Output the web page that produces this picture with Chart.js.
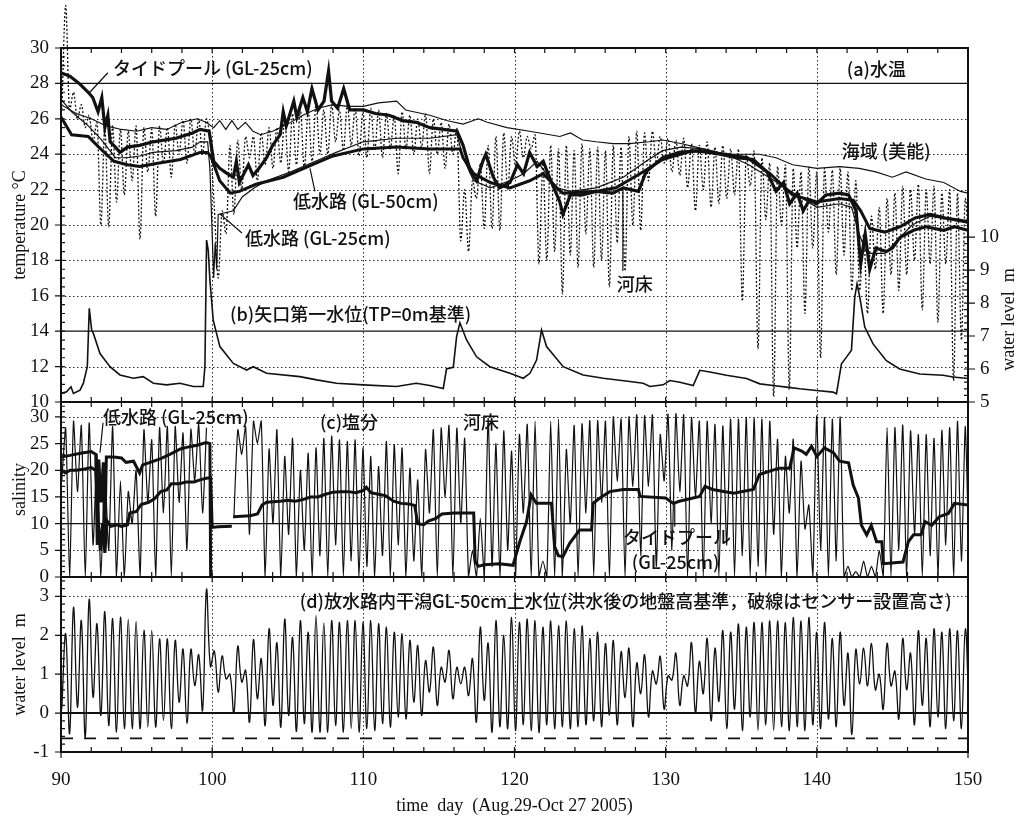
<!DOCTYPE html>
<html>
<head>
<meta charset="utf-8">
<script src="https://cdn.jsdelivr.net/npm/chart.js@4.4.1/dist/chart.umd.min.js"></script>
<style>
  html, body { margin: 0; padding: 0; background: #fff; }
  #wrap { position: relative; width: 1016px; height: 817px; }
  #wrap canvas { position: absolute; left: 0; top: 0; }
</style>
</head>
<body>
<div id="wrap">
  <canvas id="chartA" width="1016" height="817"></canvas>
  <canvas id="chartC" width="1016" height="817"></canvas>
  <canvas id="chartD" width="1016" height="817"></canvas>
</div>
<script>
// ---- tick labels ----
const dayTicks = [90, 100, 110, 120, 130, 140, 150];
const tempTicks = [10, 12, 14, 16, 18, 20, 22, 24, 26, 28, 30];
const levelTicks = [5, 6, 7, 8, 9, 10];
const salTicks = [0, 5, 10, 15, 20, 25, 30];
const tideTicks = [-1, 0, 1, 2, 3];

// ---- tide sampling grid (high water i at t0 + i*P, low water j at t0 + (j-0.5)*P) ----
const tideT0 = 90.31;
const tidePeriod = 0.5175;

// ---- (a) water temperature ----
const poolTempDay = [90.0, 90.6, 91.2, 91.8, 92.1, 92.45, 92.7, 92.9, 93.1, 93.25,
  93.6, 93.9, 94.4, 95.2, 96.1, 97.6, 98.7, 99.2, 99.8, 100.1,
  100.5, 101.0, 101.4, 101.6, 101.8, 102.4, 102.7, 103.1, 103.6, 104.0,
  104.5, 104.7, 104.9, 105.4, 105.6, 106.0, 106.3, 106.6, 107.0, 107.4,
  107.7, 107.9, 108.3, 108.7, 109.1, 110.0, 110.8, 111.7, 112.6, 113.5,
  114.4, 115.3, 116.2, 116.6, 117.1, 117.5, 117.9, 118.1, 118.6, 119.0,
  119.7, 120.2, 120.6, 121.0, 121.5, 121.9, 122.4, 123.0, 123.2, 123.7,
  124.5, 125.4, 126.5, 127.2, 128.2, 128.7, 129.8, 130.9, 132.3, 133.6,
  134.7, 135.8, 136.7, 137.3, 137.8, 138.2, 138.7, 139.1, 139.5, 140.0,
  140.6, 141.5, 142.1, 142.6, 142.9, 143.2, 143.5, 143.9, 144.6, 145.0,
  145.5, 146.4, 147.2, 148.4, 149.1, 150.0];
const poolTemp = [28.6, 28.4, 28.0, 27.5, 27.2, 26.4, 27.2, 25.5, 26.2, 24.7,
  24.4, 24.1, 24.4, 24.5, 24.7, 24.9, 25.2, 25.4, 25.3, 23.6,
  23.2, 22.9, 22.7, 23.6, 22.4, 23.4, 22.8, 23.2, 23.8, 24.5,
  25.1, 26.4, 25.6, 27.0, 26.1, 27.2, 26.4, 27.7, 26.5, 27.0,
  28.7, 27.0, 26.6, 27.7, 26.5, 26.5, 26.3, 26.2, 25.9, 25.8,
  25.5, 25.4, 25.3, 24.5, 23.0, 22.5, 23.6, 24.0, 22.7, 22.1,
  22.4, 23.4, 22.9, 24.1, 23.3, 23.6, 22.5, 21.3, 20.6, 21.7,
  21.7, 21.9, 21.8, 22.1, 21.9, 23.0, 23.8, 24.1, 24.2, 24.0,
  23.8, 23.7, 23.0, 21.9, 22.4, 21.2, 21.8, 20.8, 21.4, 21.2,
  21.7, 21.8, 21.7, 20.8, 17.8, 19.5, 17.5, 18.7, 18.5, 18.7,
  19.3, 19.7, 19.9, 19.7, 19.9, 19.7];

const lowCh50Day = [90.0, 90.7, 91.8, 92.5, 93.5, 94.4, 95.2, 96.5, 97.9, 99.2,
  99.7, 99.95, 100.5, 101.2, 101.8, 102.9, 104.7, 106.6, 108.0, 110.0,
  112.2, 114.4, 116.4, 116.6, 117.3, 118.4, 119.7, 121.0, 121.9, 122.8,
  123.2, 125.4, 126.7, 128.3, 129.8, 131.8, 134.0, 135.4, 136.9, 138.4,
  140.0, 141.5, 142.4, 142.9, 143.5, 144.5, 145.5, 146.5, 147.5, 148.5, 150.0];
const lowCh50 = [26.1, 25.1, 25.0, 24.4, 23.6, 23.4, 23.3, 23.5, 23.7, 24.1,
  24.1, 23.8, 22.5, 21.8, 21.9, 22.3, 22.7, 23.4, 23.9, 24.3,
  24.4, 24.3, 24.3, 23.8, 22.9, 22.4, 22.1, 22.5, 22.9, 22.1,
  21.8, 21.9, 22.1, 22.9, 23.7, 24.2, 24.0, 23.8, 22.9, 21.7,
  21.3, 21.5, 21.4, 20.8, 19.8, 19.6, 19.9, 20.4, 20.6, 20.4, 20.2];

const lowCh25Day = [90.0, 90.7, 91.8, 92.6, 93.6, 94.4, 95.2, 96.1, 97.6, 98.7,
  99.2, 99.7, 99.85, 100.0, 100.1, 100.2, 100.3, 100.4, 101.4, 102.0,
  102.8, 103.6, 105.2, 107.1, 108.2, 110.0, 112.2, 114.4, 116.2, 116.6,
  117.3, 118.4, 119.7, 120.6, 121.5, 122.1, 122.8, 123.7, 125.4, 127.2,
  128.7, 129.8, 131.0, 132.5, 134.0, 135.5, 137.0, 138.5, 140.0, 141.5,
  142.3, 142.8, 143.2, 143.5, 144.5, 145.5, 146.3, 147.5, 150.0];
const lowCh25 = [27.1, 26.4, 25.6, 24.9, 23.8, 23.8, 23.9, 24.1, 24.2, 24.4,
  24.7, 24.7, 23.2, 19.5, 17.0, 19.0, 17.5, 20.6, 20.8, 21.6,
  22.1, 22.5, 23.0, 23.7, 24.1, 24.7, 24.9, 24.9, 25.1, 23.8,
  22.5, 22.1, 22.5, 22.9, 23.6, 22.9, 22.1, 21.9, 22.1, 22.7,
  23.6, 24.2, 24.4, 24.3, 24.0, 23.4, 22.6, 21.8, 21.0, 21.2,
  21.0, 19.5, 18.6, 18.4, 18.4, 19.3, 20.0, 20.5, 20.1];

const seaDay = [90.0, 91.0, 92.0, 93.0, 94.0, 95.0, 96.0, 97.0, 98.0, 99.0,
  99.6, 100.1, 100.5, 100.9, 101.3, 101.7, 102.2, 102.7, 103.2, 104.0,
  105.0, 106.0, 107.0, 108.0, 109.0, 110.0, 111.0, 112.2, 112.8, 114.4,
  115.5, 116.6, 117.6, 118.2, 119.5, 121.0, 123.0, 123.7, 124.5, 125.4,
  126.5, 127.6, 128.9, 129.8, 131.0, 132.5, 134.0, 136.2, 137.3, 138.4,
  140.0, 141.5, 142.8, 143.9, 145.0, 145.9, 147.2, 148.4, 149.5, 150.0];
const seaTemp = [26.8, 26.3, 26.0, 25.6, 25.4, 25.3, 25.5, 25.4, 25.8, 26.0,
  25.8, 25.5, 25.9, 25.4, 25.9, 25.4, 25.8, 25.3, 25.1, 25.3,
  25.7, 26.2, 26.6, 26.8, 26.7, 26.7, 26.9, 27.0, 26.5, 26.2,
  25.9, 25.7, 26.0, 25.8, 25.5, 25.3, 25.0, 25.2, 24.8, 24.7,
  24.6, 24.6, 24.7, 24.8, 24.6, 24.3, 24.0, 24.0, 23.8, 23.4,
  23.2, 23.3, 23.2, 23.0, 22.7, 23.0, 22.6, 22.4, 21.9, 21.8];

// riverbed (河床) temperature at high and low water
const bedTempHigh = [32.4, 27.5, 26.8, 26.2, 25.8, 25.5, 25.6, 25.4, 25.3, 25.6,
  25.5, 25.4, 25.6, 25.5, 25.7, 25.9, 26.0, 26.0, 26.0, 21.0,
  20.8, 24.5, 24.8, 25.0, 25.0, 25.2, 25.5, 25.5, 26.0, 26.3,
  26.5, 26.5, 26.8, 26.5, 26.8, 26.5, 26.8, 26.6, 26.4, 26.6,
  26.5, 26.3, 26.2, 26.4, 26.2, 26.0, 26.3, 26.0, 25.8, 25.7,
  25.5, 22.0, 22.5, 23.5, 24.5, 25.0, 25.2, 25.0, 25.3, 25.0,
  25.1, 23.5, 24.5, 24.3, 24.5, 24.2, 24.6, 24.3, 24.4, 24.2,
  24.5, 24.4, 25.0, 25.3, 25.2, 25.3, 25.0, 24.9, 24.8, 24.9,
  24.6, 24.5, 24.7, 24.4, 24.5, 24.3, 24.3, 24.0, 24.2, 23.8,
  23.5, 23.3, 23.4, 23.2, 23.0, 23.3, 23.0, 23.2, 23.1, 23.2,
  23.0, 22.5, 19.5, 20.5, 21.0, 21.5, 21.8, 22.2, 22.0, 22.3,
  22.0, 22.2, 21.8, 22.0, 21.8, 21.5];
const bedTempLow = [26.5, 26.5, 26.0, 25.5, 24.7, 20.0, 19.9, 21.3, 21.7, 22.5,
  19.2, 23.0, 20.5, 23.5, 22.7, 24.0, 23.5, 24.0, 24.0, 24.5,
  17.0, 19.5, 20.6, 22.0, 23.8, 22.5, 23.4, 23.2, 23.5, 23.0,
  23.4, 23.2, 23.6, 24.0, 24.0, 24.7, 24.2, 24.5, 23.9, 23.8,
  24.2, 23.8, 24.3, 22.9, 24.3, 24.0, 24.4, 22.9, 24.0, 23.2,
  24.0, 19.1, 18.5, 21.5, 19.8, 19.8, 19.7, 22.0, 23.3, 23.8,
  24.3, 17.8, 18.0, 18.5, 16.1, 18.3, 17.6, 19.5, 17.6, 18.0,
  16.5, 19.0, 17.4, 20.0, 19.7, 22.5, 23.5, 23.5, 23.0, 22.8,
  22.1, 20.8, 22.0, 21.0, 21.2, 21.5, 21.7, 15.7, 22.2, 13.0,
  20.3, 10.3, 20.0, 10.7, 18.7, 15.0, 18.7, 12.5, 19.6, 17.2,
  18.3, 16.3, 16.3, 15.0, 17.5, 15.0, 17.2, 16.3, 17.2, 18.0,
  15.2, 17.8, 14.5, 17.8, 11.2, 13.5, 18.0];

// ---- (b) Yaguchi No.1 water level, m (right axis) ----
const wlDay = [90.0, 90.37, 90.66, 90.82, 91.26, 91.48, 91.74, 91.87, 92.03, 92.14,
  92.58, 93.24, 93.9, 94.78, 95.44, 96.11, 96.99, 97.87, 98.75, 99.41,
  99.52, 99.63, 99.74, 99.85, 100.07, 100.51, 101.4, 102.28, 102.72, 103.6,
  105.8, 106.91, 108.23, 110.0, 112.2, 113.5, 114.4, 115.29, 115.5, 115.95,
  116.17, 116.39, 116.83, 117.49, 118.37, 119.7, 120.58, 121.02, 121.46, 121.79,
  122.12, 123.22, 124.54, 125.87, 127.63, 128.51, 128.96, 129.83, 130.28, 130.94,
  131.82, 132.26, 132.92, 134.02, 135.35, 136.23, 137.11, 137.99, 138.87, 139.97,
  141.07, 141.3, 141.63, 141.96, 142.29, 142.51, 142.66, 142.84, 143.17, 143.72,
  144.6, 145.48, 146.81, 148.35, 149.01, 150.0];
const wlLevel = [5.26, 5.31, 5.46, 5.26, 5.36, 5.57, 6.07, 7.84, 7.18, 7.08,
  6.47, 6.07, 5.82, 5.72, 5.77, 5.57, 5.52, 5.57, 5.47, 5.47,
  6.07, 9.91, 9.6, 8.7, 7.48, 6.68, 6.17, 5.97, 6.07, 5.87,
  5.77, 5.67, 5.57, 5.52, 5.47, 5.57, 5.5, 5.41, 6.0, 6.05,
  6.98, 7.4, 6.88, 6.37, 6.07, 5.87, 5.72, 5.87, 6.27, 7.18,
  6.68, 6.07, 5.82, 5.72, 5.62, 5.57, 5.47, 5.52, 5.65, 5.6,
  5.5, 5.96, 5.91, 5.81, 5.71, 5.55, 5.5, 5.45, 5.4, 5.35,
  5.3, 5.25, 6.16, 6.36, 6.57, 8.18, 8.58, 8.18, 7.27, 6.76,
  6.25, 6.0, 5.85, 5.81, 5.76, 5.71];

// ---- (c) salinity ----
const lowSalDay = [90.0, 90.6, 91.3, 92.0, 92.3, 92.4, 92.5, 92.65, 92.8, 92.9,
  93.0, 93.5, 94.0, 94.3, 94.8, 95.2, 95.4, 95.9, 96.6, 97.2,
  97.9, 98.3, 99.0, 99.6, 99.85, 99.9];
const lowSal = [22.5, 22.8, 23.2, 23.5, 23.0, 6.0, 22.0, 14.0, 21.5, 8.0,
  22.5, 22.5, 22.3, 21.5, 21.7, 19.5, 21.0, 21.5, 22.2, 23.0,
  24.0, 24.3, 24.7, 25.2, 25.0, 0.0];

const poolSalDay = [90.0, 90.3, 90.6, 91.0, 91.5, 92.0, 92.3, 92.45, 92.6, 92.75,
  92.9, 93.05, 93.3, 93.7, 94.0, 94.4, 94.55, 95.0, 95.3, 95.8,
  96.2, 96.6, 97.0, 97.3, 97.8, 98.3, 98.8, 99.2, 99.6, 99.9,
  100.0, 100.4, 101.3, 101.35, 101.4, 102.5, 103.0, 103.3, 103.6, 104.5,
  105.0, 105.5, 106.0, 106.5, 107.0, 107.5, 108.0, 108.5, 109.0, 109.5,
  110.0, 110.2, 110.5, 111.0, 111.5, 112.0, 112.5, 113.0, 113.4, 113.6,
  114.0, 114.3, 114.8, 115.2, 116.0, 116.8, 117.3, 117.4, 117.6, 118.0,
  119.0, 119.9, 120.35, 120.8, 121.1, 121.45, 122.45, 122.65, 122.9, 123.2,
  123.65, 124.3, 125.1, 125.2, 125.65, 126.3, 127.2, 128.2, 128.3, 130.0,
  130.5, 130.9, 132.25, 132.6, 133.1, 134.5, 135.8, 136.2, 137.5, 138.2,
  138.5, 139.0, 139.3, 139.65, 140.0, 140.5, 141.1, 141.5, 142.1, 142.4,
  142.75, 142.95, 143.3, 143.6, 143.95, 144.3, 144.4, 145.7, 146.05, 146.4,
  146.9, 147.15, 147.6, 148.1, 148.7, 149.1, 150.0];
const poolSal = [20, 19.5, 20, 20, 20.2, 20.5, 20, 11, 5, 10,
  4.5, 10.5, 9.5, 9.8, 9.5, 9.8, 12, 12.3, 13.6, 14,
  14.7, 16, 16.3, 17.5, 17.5, 17.8, 17.8, 18.2, 18.5, 18.6,
  9.3, 9.4, 9.5, null, 11.3, 11.5, 11.8, 13.5, 14, 14.2,
  14.4, 14.2, 14.5, 15, 15, 15.5, 15.9, 16, 16, 15.8,
  16.2, 16.8, 15.8, 15.5, 15.2, 14.2, 13.8, 13.7, 13.4, 10,
  9.8, 10.5, 11, 11.8, 12, 12, 12, 3, 2, 2.3,
  2.5, 2.2, 6.6, 10.4, 15.4, 13.8, 13.8, 5.7, 4, 3.8,
  6.3, 8.8, 8.8, 13.8, 14.8, 16, 16.4, 16.4, 15.1, 14.8,
  13.8, 14.2, 15.1, 17, 16.4, 15.7, 16.4, 19.2, 20.4, 20.4,
  24.2, 23.6, 23, 24.5, 22.6, 24.2, 23.3, 21.7, 21.4, 17.3,
  14.8, 9.7, 7.9, 9.7, 6.6, 6.6, 2.5, 2.8, 6.6, 7.9,
  7.9, 10.4, 9.7, 11.3, 11.9, 13.8, 13.5];

// riverbed (河床) salinity at high and low water
const bedSalHigh = [27.9, 29.2, 28.4, 28.9, 23.0, 20.0, 28.2, 18.0, 16.0, 20.0,
  27.6, 25.7, 28.0, 28.2, 28.2, 27.0, 27.7, 28.6, 28.0, null,
  null, null, 27.6, 28.2, 29.2, 29.2, 24.0, 27.6, 22.6, 26.0,
  20.0, 23.2, 24.2, 26.0, 26.4, 25.7, 25.4, 25.7, 24.2, 22.6,
  20.7, 25.4, 24.8, 24.2, 20.4, 18.2, 23.9, 27.6, 27.9, 28.4,
  27.9, 26.0, 5.0, 11.0, 29.8, 25.0, 27.4, 23.6, 26.7, 28.6,
  29.2, 3.0, 29.2, 29.6, 23.9, 28.4, 28.7, 29.3, 29.3, 29.2,
  30.0, 29.6, 30.0, 30.4, 30.2, 30.4, 26.7, 30.5, 30.6, 30.4,
  29.9, 29.2, 29.2, 28.6, 28.3, 29.6, 29.6, 29.9, 29.8, 29.6,
  29.2, 25.8, 22.6, 25.8, 21.7, 13.5, 30.2, 29.9, 29.6, 30.0,
  2.0, 1.0, 3.0, 2.0, 5.0, 28.0, 28.0, 28.5, 27.4, 26.7,
  26.7, 26.0, 27.5, 28.0, 29.2, 28.2];
const bedSalLow = [18, 0, 16, 0, 6, 0, 5, 0, 0, 10,
  0, 14, 0, 12, 0, 14, 5, 18, 12, null,
  null, null, 11, 23, 8, 25, 0, 10, 0, 8,
  0, 5, 0, 4, 0, 6, 0, 3, 0, 2,
  0, 4, 0, 6, 0, 3, 0, 12, 0, 15,
  0, 10, 0, 0, 0, 2, 0, 5, 0, 12,
  0, 0, 0, 0, 0, 10, 0, 12, 0, 14,
  0, 18, 0, 17, 4, 17, 2, 18, 5, 16,
  0, 15, 0, 10, 0, 6, 0, 4, 0, 2,
  0, 8, 0, 12, 0, 9, 0, 5, 0, 3,
  0, 0, 0, 0, 0, 0, 0, 5, 0, 8,
  0, 4, 0, 6, 0, 3, 0];

// ---- (d) water level on the tidal flat, m ----
const tideHigh = [2.04, 2.72, 2.38, 2.92, 2.30, 2.61, 2.43, 2.47, 2.41, 2.36,
  2.13, 2.13, 1.91, 1.91, 1.87, 1.65, 1.64, 1.50, 3.18, 1.60,
  1.47, 1.00, 1.72, 1.10, 1.89, 1.40, 2.17, 1.81, 2.42, 1.95,
  2.38, 2.08, 2.51, 2.32, 2.38, 2.33, 2.38, 2.38, 2.33, 2.38,
  2.30, 2.21, 2.08, 2.04, 1.87, 1.74, 1.35, 1.70, 1.18, 1.61,
  1.18, 1.18, 1.40, 2.21, 1.80, 2.38, 2.00, 2.46, 2.33, 2.42,
  2.38, 2.21, 2.37, 2.25, 2.37, 2.17, 2.25, 1.92, 2.08, 1.79,
  1.87, 1.58, 1.67, 1.29, 1.50, 1.08, 1.46, 0.96, 1.54, 0.96,
  1.81, 1.33, 1.92, 1.67, 2.12, 2.08, 2.29, 2.21, 2.33, 2.33,
  2.37, 2.37, 2.33, 2.46, 2.37, 2.46, 2.08, 2.33, 1.92, 2.08,
  1.54, 1.63, 1.67, 1.79, 1.00, 1.79, 1.08, 1.92, 1.54, 2.12,
  1.92, 2.17, 2.08, 2.17, 2.12, 2.17];
const tideLow = [0.10, -0.53, 0.15, -0.62, 0.41, -0.06, -0.32, -0.49, -0.40, -0.40,
  -0.40, -0.36, -0.36, -0.19, -0.40, 0.28, -0.27, 0.71, 0.07, 1.20,
  0.54, 0.88, 0.00, 0.80, -0.23, 0.37, -0.32, 0.20, -0.36, -0.06,
  -0.47, -0.27, -0.49, -0.49, -0.49, -0.32, -0.49, -0.40, -0.49, -0.40,
  -0.45, -0.27, -0.36, -0.10, -0.15, 0.28, -0.06, 0.54, 0.20, 0.80,
  0.37, 0.75, 0.45, -0.23, 0.33, -0.49, -0.35, -0.40, -0.45, -0.30,
  -0.45, -0.50, -0.30, -0.40, -0.35, -0.40, -0.35, -0.30, -0.20, -0.35,
  -0.05, -0.30, 0.40, -0.35, 0.50, -0.10, 0.75, 0.10, 0.85, 0.20,
  0.70, 0.00, 0.50, -0.20, 0.30, -0.40, 0.10, -0.45, -0.10, -0.45,
  -0.30, -0.45, -0.35, -0.45, -0.35, -0.45, -0.30, -0.40, -0.15, -0.35,
  0.20, -0.55, 0.75, 0.70, 0.60, 0.10, 0.70, -0.15, 0.60, -0.30,
  0.20, -0.35, -0.10, -0.40, -0.20, -0.40, -0.30];
const sensorDay = [90, 150];
const sensorLevel = [-0.65, -0.65];

// ---- helpers ----
Chart.defaults.font.family = "'Liberation Serif', 'Times New Roman', serif";
Chart.defaults.font.size = 19;
Chart.defaults.color = '#111';
Chart.defaults.animation = false;
Chart.defaults.events = [];
Chart.defaults.plugins.legend.display = false;
Chart.defaults.plugins.tooltip.enabled = false;

const pts = (days, vals) => days.map((d, k) => ({ x: d, y: vals[k] }));

function tidePts(highs, lows) {
  const out = [];
  for (let j = 0; j < lows.length; j++) {
    out.push({ x: tideT0 + (j - 0.5) * tidePeriod, y: lows[j] });
    if (j < highs.length) out.push({ x: tideT0 + j * tidePeriod, y: highs[j] });
  }
  return out;
}

function line(data, width, extra) {
  return Object.assign({
    data, borderColor: '#111', borderWidth: width,
    pointRadius: 0, fill: false, tension: 0
  }, extra || {});
}

function xAxis(showLabels) {
  return {
    type: 'linear', min: 90, max: 150,
    grid: { display: false, drawTicks: false }, border: { display: false },
    afterBuildTicks: s => { s.ticks = dayTicks.map(v => ({ value: v })); },
    ticks: { display: showLabels, padding: 17, maxRotation: 0, autoSkip: false },
    afterFit: s => { s.height = showLabels ? 65 : 0; }
  };
}

function yAxis(min, max, ticks, pos, width) {
  return {
    type: 'linear', position: pos, min, max,
    grid: { display: false, drawTicks: false }, border: { display: false },
    afterBuildTicks: s => { s.ticks = ticks.map(v => ({ value: v })); },
    ticks: { padding: 12, autoSkip: false },
    afterFit: s => { s.width = width; }
  };
}

// grid, frame, tick marks, axis titles and notes
const deco = {
  id: 'deco',
  beforeDatasetsDraw(chart, args, o) {
    const { ctx, chartArea: a } = chart;
    const xs = chart.scales.x, ys = chart.scales.y;
    ctx.save();
    ctx.strokeStyle = '#2a2a2a';
    ctx.lineWidth = 1;
    ctx.setLineDash([1.5, 2.5]);
    ctx.beginPath();
    [100, 110, 120, 130, 140].forEach(d => {
      const p = Math.round(xs.getPixelForValue(d)) + 0.5;
      ctx.moveTo(p, a.top); ctx.lineTo(p, a.bottom);
    });
    o.dotted.forEach(v => {
      const p = Math.round(ys.getPixelForValue(v)) + 0.5;
      ctx.moveTo(a.left, p); ctx.lineTo(a.right, p);
    });
    ctx.stroke();
    ctx.setLineDash([]);
    ctx.strokeStyle = '#111';
    ctx.lineWidth = o.solidWidth;
    ctx.beginPath();
    o.solid.forEach(v => {
      const p = ys.getPixelForValue(v);
      ctx.moveTo(a.left, p); ctx.lineTo(a.right, p);
    });
    ctx.stroke();
    ctx.restore();
  },
  afterDraw(chart, args, o) {
    const { ctx, chartArea: a } = chart;
    const xs = chart.scales.x, ys = chart.scales.y;
    ctx.save();
    ctx.strokeStyle = '#111';
    ctx.lineWidth = 1.2;
    ctx.beginPath();
    for (let d = 92; d < 150; d += 2) {
      const p = xs.getPixelForValue(d);
      ctx.moveTo(p, a.top); ctx.lineTo(p, a.top + 5);
      ctx.moveTo(p, a.bottom); ctx.lineTo(p, a.bottom - 5);
    }
    if (o.xOut) {
      dayTicks.forEach(d => {
        const p = xs.getPixelForValue(d);
        ctx.moveTo(p, a.bottom); ctx.lineTo(p, a.bottom + 6);
      });
    }
    for (let v = o.minorFrom; v <= o.minorTo + 1e-6; v += o.minorStep) {
      const p = ys.getPixelForValue(v);
      ctx.moveTo(a.left, p); ctx.lineTo(a.left + 4, p);
    }
    o.majors.forEach(v => {
      const p = ys.getPixelForValue(v);
      ctx.moveTo(a.left - 6, p); ctx.lineTo(a.left, p);
    });
    if (o.right) {
      const rs = chart.scales.y2;
      for (let v = 5; v <= 10 + 1e-6; v += 0.2) {
        const p = rs.getPixelForValue(v);
        ctx.moveTo(a.right, p); ctx.lineTo(a.right - 4, p);
      }
      levelTicks.forEach(v => {
        const p = rs.getPixelForValue(v);
        ctx.moveTo(a.right, p); ctx.lineTo(a.right + 7, p);
      });
    }
    ctx.stroke();

    ctx.lineWidth = 2;
    ctx.strokeRect(a.left, a.top, a.right - a.left, a.bottom - a.top);

    // axis titles
    ctx.fillStyle = '#111';
    ctx.font = "18px 'Liberation Serif'";
    ctx.textAlign = 'center';
    ctx.textBaseline = 'middle';
    const midY = (a.top + a.bottom) / 2;
    ctx.save();
    ctx.translate(a.left - 41, midY);
    ctx.rotate(-Math.PI / 2);
    ctx.fillText(o.title, 0, 0);
    ctx.restore();
    if (o.right) {
      // right title sits beside the water-level tick labels (5-10 m)
      const rs = chart.scales.y2;
      ctx.save();
      ctx.translate(a.right + 41, rs.getPixelForValue(7.5));
      ctx.rotate(-Math.PI / 2);
      ctx.fillText('water level  m', 0, 0);
      ctx.restore();
    }
    if (o.bottomTitle) {
      ctx.fillText(o.bottomTitle, (a.left + a.right) / 2, a.bottom + 54);
    }

    // leader lines and notes
    ctx.lineWidth = 1.2;
    ctx.beginPath();
    o.leaders.forEach(l => {
      ctx.moveTo(xs.getPixelForValue(l[0]), ys.getPixelForValue(l[1]));
      ctx.lineTo(xs.getPixelForValue(l[2]), ys.getPixelForValue(l[3]));
    });
    ctx.stroke();
    ctx.font = "500 18px 'Noto Sans CJK JP'";
    ctx.textAlign = 'left';
    o.notes.forEach(n => {
      ctx.fillText(n.text, xs.getPixelForValue(n.x), ys.getPixelForValue(n.y));
    });
    ctx.restore();
  }
};

// ---- panel (a)+(b) ----
new Chart(document.getElementById('chartA'), {
  type: 'line',
  data: {
    datasets: [
      line(pts(poolTempDay, poolTemp), 3.2),
      line(pts(lowCh50Day, lowCh50), 3),
      line(pts(lowCh25Day, lowCh25), 1.2),
      line(pts(seaDay, seaTemp), 1.1),
      line(tidePts(bedTempHigh, bedTempLow), 1.3, {
        borderDash: [2, 2], cubicInterpolationMode: 'monotone',
        clip: { left: 0, top: false, right: 0, bottom: 0 }
      }),
      line(pts(wlDay, wlLevel), 1.6, { yAxisID: 'y2' })
    ]
  },
  options: {
    responsive: false,
    layout: { padding: { top: 48, bottom: 415, left: 0, right: 0 } },
    scales: {
      x: xAxis(false),
      y: yAxis(10, 30, tempTicks, 'left', 61),
      y2: yAxis(5, 15.73, levelTicks, 'right', 48)
    },
    plugins: {
      deco: {
        dotted: [12, 16, 18, 20, 22, 24, 26], solid: [14, 28], solidWidth: 1.2,
        minorFrom: 10, minorTo: 30, minorStep: 0.5, majors: tempTicks,
        right: true, title: 'temperature °C',
        leaders: [[93.1, 28.6, 91.8, 27.4], [106.47, 23.2, 106.8, 21.9],
          [100.52, 20.62, 101.97, 19.55], [127.17, 22.1, 127.17, 17.4]],
        notes: [
          { x: 93.44, y: 28.87, text: 'タイドプール (GL-25cm)' },
          { x: 141.98, y: 28.8, text: '(a)水温' },
          { x: 141.65, y: 24.18, text: '海域 (美能)' },
          { x: 105.34, y: 21.36, text: '低水路 (GL-50cm)' },
          { x: 102.17, y: 19.27, text: '低水路 (GL-25cm)' },
          { x: 126.77, y: 16.67, text: '河床' },
          { x: 101.18, y: 14.97, text: '(b)矢口第一水位(TP=0m基準)' }
        ]
      }
    }
  },
  plugins: [deco]
});

// ---- panel (c) ----
new Chart(document.getElementById('chartC'), {
  type: 'line',
  data: {
    datasets: [
      line(pts(lowSalDay, lowSal), 3),
      line(pts(poolSalDay, poolSal), 3),
      line(tidePts(bedSalHigh, bedSalLow), 1.2, { tension: 0.2 })
    ]
  },
  options: {
    responsive: false,
    layout: { padding: { top: 402, bottom: 240, left: 0, right: 48 } },
    scales: {
      x: xAxis(false),
      y: yAxis(0, 32.8, salTicks, 'left', 61)
    },
    plugins: {
      deco: {
        dotted: [5, 15, 20, 25, 30], solid: [10], solidWidth: 1.2,
        minorFrom: 0, minorTo: 32, minorStep: 1, majors: salTicks,
        title: 'salinity',
        leaders: [[92.78, 28.9, 92.58, 23.3], [130.6, 13.9, 130.6, 9.4]],
        notes: [
          { x: 92.78, y: 30.0, text: '低水路 (GL-25cm)' },
          { x: 107.13, y: 29.1, text: '(c)塩分' },
          { x: 116.59, y: 29.1, text: '河床' },
          { x: 127.17, y: 7.5, text: 'タイドプール' },
          { x: 127.76, y: 2.8, text: '(GL-25cm)' }
        ]
      }
    }
  },
  plugins: [deco]
});

// ---- panel (d) ----
new Chart(document.getElementById('chartD'), {
  type: 'line',
  data: {
    datasets: [
      line(tidePts(tideHigh, tideLow), 1.3, { tension: 0.4 }),
      line(pts(sensorDay, sensorLevel), 1.6, { borderDash: [12, 11] })
    ]
  },
  options: {
    responsive: false,
    layout: { padding: { top: 577, bottom: 0, left: 0, right: 48 } },
    scales: {
      x: xAxis(true),
      y: yAxis(-1, 3.5, tideTicks, 'left', 61)
    },
    plugins: {
      deco: {
        dotted: [1, 2, 3], solid: [0], solidWidth: 2,
        minorFrom: -1, minorTo: 3.4, minorStep: 0.2, majors: tideTicks,
        title: 'water level  m', xOut: true,
        bottomTitle: 'time  day  (Aug.29-Oct 27 2005)',
        leaders: [],
        notes: [
          { x: 105.8, y: 2.87, text: '(d)放水路内干潟GL-50cm上水位(洪水後の地盤高基準，破線はセンサー設置高さ)' }
        ]
      }
    }
  },
  plugins: [deco]
});
</script>
</body>
</html>
